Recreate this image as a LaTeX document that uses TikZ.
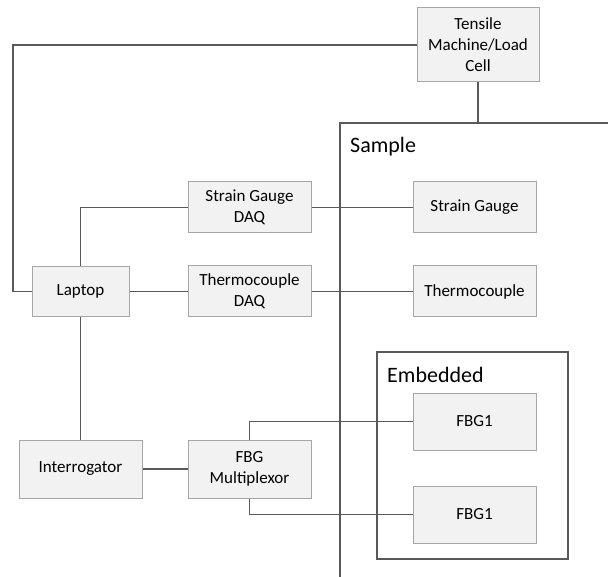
\documentclass[tikz,border=0pt]{standalone}
\usepackage{fontspec}
\setmainfont{Carlito}
\begin{document}
\definecolor{boxfill}{HTML}{F2F2F2}
\definecolor{boxedge}{HTML}{A6A6A6}
\definecolor{wire}{HTML}{595959}
\begin{tikzpicture}[x=1pt,y=-1pt,
  blk/.style={draw=boxedge, fill=boxfill, line width=1pt, inner sep=0pt,
    align=center, font=\fontsize{17}{21}\selectfont},
  wirestyle/.style={draw=wire, line width=1.9pt},
  framestyle/.style={draw=wire, line width=1.7pt},
  framelabel/.style={anchor=base west, inner sep=0pt, font=\fontsize{22}{26}\selectfont}]
\useasboundingbox (0,0) rectangle (608,577);

% sample frame (open on the right and bottom)
\coordinate (sampletl) at (340,123);
\draw[framestyle] (340,577) -- (sampletl) -- (608,123);
\node[framelabel] (samplelbl) at (350,153) {Sample};

% embedded region
\draw[framestyle] (377,352) rectangle (568,559);
\node[framelabel] (embeddedlbl) at (387,383) {Embedded};

% equipment blocks
\node[blk, minimum width=122pt, minimum height=74pt] (tensile) at (478,45) {Tensile\\Machine/Load\\Cell};
\node[blk, minimum width=97pt, minimum height=50pt] (laptop) at (80.5,291.5) {Laptop};
\node[blk, minimum width=123pt, minimum height=51pt] (sgdaq) at (249.5,207.5) {Strain Gauge\\DAQ};
\node[blk, minimum width=123pt, minimum height=51pt] (tcdaq) at (249.5,291.5) {Thermocouple\\DAQ};
\node[blk, minimum width=123pt, minimum height=51pt] (sg) at (474.5,207.5) {Strain Gauge};
\node[blk, minimum width=123pt, minimum height=51pt] (tc) at (474.5,291.5) {Thermocouple};
\node[blk, minimum width=123pt, minimum height=58pt] (interr) at (80.5,469) {Interrogator};
\node[blk, minimum width=123pt, minimum height=58pt] (mux) at (249.5,469) {FBG\\Multiplexor};
\node[blk, minimum width=123pt, minimum height=57pt] (fbga) at (474.5,421.5) {FBG1};
\node[blk, minimum width=123pt, minimum height=57pt] (fbgb) at (474.5,514.5) {FBG1};

% connections
\coordinate (leftrail) at (13,0);
\draw[wirestyle] (tensile.west) -- (tensile.west -| leftrail) |- (laptop.west);
\draw[wirestyle] (tensile.south) -- (tensile.south |- sampletl);
\draw[wirestyle] (laptop.north) |- (sgdaq.west);
\draw[wirestyle] (laptop.east) -- (tcdaq.west);
\draw[wirestyle] (sgdaq.east) -- (sg.west);
\draw[wirestyle] (tcdaq.east) -- (tc.west);
\draw[wirestyle] (laptop.south) -- (interr.north);
\draw[wirestyle] (interr.east) -- (mux.west);
\draw[wirestyle] (mux.north) |- (fbga.west);
\draw[wirestyle] (mux.south) |- (fbgb.west);
\end{tikzpicture}
\end{document}
